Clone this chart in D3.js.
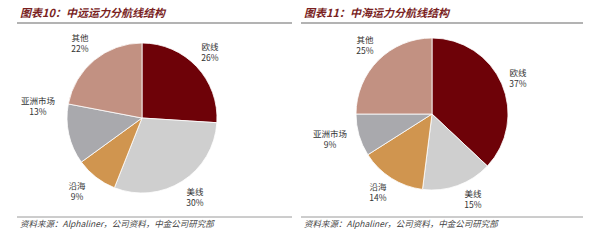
<!doctype html>
<html>
  <head>
    <meta charset="utf-8">
    <script src="https://cdnjs.cloudflare.com/ajax/libs/d3/7.8.5/d3.min.js"></script>
    <style>
      body { margin: 0; background: #fff; }
      svg { font-family: "Noto Sans CJK SC", "Liberation Sans", sans-serif; }
    </style>
  </head>
  <body>
    <svg id="chart" width="600" height="245"></svg>
    <script>
      var categories = ["欧线", "美线", "沿海", "亚洲市场", "其他"];
      var cosco = [26, 30, 9, 13, 22];
      var cscl = [37, 15, 14, 9, 25];
      var titles = ["图表10：中远运力分航线结构", "图表11：中海运力分航线结构"];
      var source = "资料来源：Alphaliner，公司资料，中金公司研究部";

      var colors = d3.scaleOrdinal()
        .domain(categories)
        .range(["#6e0208", "#cfcfcf", "#d0954f", "#a9a9ad", "#c29182"]);

      var svg = d3.select("#chart");

      // label positions (x, y of first line) per panel
      var labelPos = [
        [[210, 50], [195, 195], [77, 189], [38, 104], [80, 41]],
        [[518, 76], [473, 197], [378, 190], [330, 137], [365, 43]]
      ];

      var panels = [
        {x0: 17, x1: 292, cx: 142, cy: 118, r: 75, data: cosco},
        {x0: 301, x1: 583, cx: 432, cy: 114, r: 76, data: cscl}
      ];

      var pie = d3.pie().sort(null).value(d => d);

      panels.forEach(function(p, i) {
        var g = svg.append("g");

        g.append("text")
          .attr("x", p.x0 + 3).attr("y", 17)
          .attr("font-size", 11).attr("font-weight", "bold")
          .attr("font-style", "italic").attr("fill", "#7a1f1f")
          .text(titles[i]);
        g.append("line")
          .attr("x1", p.x0).attr("x2", p.x1).attr("y1", 23).attr("y2", 23)
          .attr("stroke", "#9a9a9a").attr("stroke-width", 1.5);

        var arc = d3.arc().innerRadius(0).outerRadius(p.r);
        g.append("g")
          .attr("transform", "translate(" + p.cx + "," + p.cy + ")")
          .selectAll("path")
          .data(pie(p.data)).enter().append("path")
            .attr("d", arc)
            .attr("fill", (d, j) => colors(categories[j]))
            .attr("stroke", "#fff").attr("stroke-width", 0.8);

        var lab = g.selectAll("text.lab")
          .data(p.data).enter().append("text")
            .attr("class", "lab")
            .attr("x", (d, j) => labelPos[i][j][0])
            .attr("y", (d, j) => labelPos[i][j][1])
            .attr("text-anchor", "middle")
            .attr("font-size", 8.5).attr("fill", "#333");
        lab.append("tspan").attr("x", (d, j) => labelPos[i][j][0])
          .text((d, j) => categories[j]);
        lab.append("tspan").attr("x", (d, j) => labelPos[i][j][0]).attr("dy", 11)
          .text(d => d + "%");

        g.append("line")
          .attr("x1", p.x0).attr("x2", p.x1).attr("y1", 217).attr("y2", 217)
          .attr("stroke", "#9a9a9a").attr("stroke-width", 1);
        g.append("text")
          .attr("x", p.x0 + 3).attr("y", 227)
          .attr("font-size", 8.5).attr("font-style", "italic").attr("fill", "#444")
          .text(source);
      });
    </script>
  </body>
</html>
